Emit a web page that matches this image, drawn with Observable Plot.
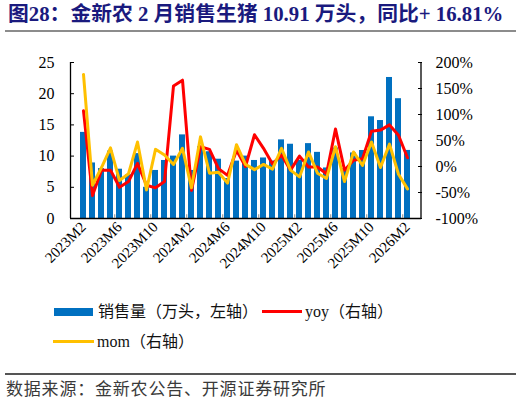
<!DOCTYPE html>
<html>
<head>
<meta charset="utf-8">
<script src="https://cdn.jsdelivr.net/npm/d3@7"></script>
<script src="https://cdn.jsdelivr.net/npm/@observablehq/plot@0.6"></script>
<style>
  body { margin: 0; background: white; }
  #wrap { position: relative; width: 522px; height: 405px; overflow: hidden; background: white; }
  #wrap div { position: absolute; white-space: nowrap; }
  .cn { font-family: 'Liberation Serif', 'Noto Sans CJK SC', serif; }
  #title { left: 8px; top: 1px; font-size: 20.8px; font-weight: bold; color: #1a1a7e; line-height: 26px; }
  #chart { left: 0; top: 40px; }
  .lg { font-size: 16px; line-height: 20px; color: #111; }
  #source { left: 6px; top: 380px; font-size: 17px; line-height: 20px; color: #3a3a3a; letter-spacing: 0.8px; }
</style>
</head>
<body>
<div id="wrap">
  <div id="title" class="cn">图28：金新农 2 月销售生猪 10.91 万头，同比+ 16.81%</div>
  <div style="left:5px;top:30px;width:511px;height:2px;background:#8c8c8c;"></div>
  <div id="chart"></div>

  <div style="left:54px;top:308px;width:39px;height:8px;background:#0070C0;"></div>
  <div class="lg cn" style="left:98px;top:302px;">销售量（万头，左轴）</div>
  <div style="left:262px;top:310px;width:40px;height:3px;background:#FF0000;"></div>
  <div class="lg cn" style="left:305px;top:302px;">yoy（右轴）</div>
  <div style="left:53px;top:340px;width:41px;height:3px;background:#FFC000;"></div>
  <div class="lg cn" style="left:97px;top:332px;">mom（右轴）</div>

  <div style="left:5px;top:373px;width:511px;height:1.5px;background:#555;"></div>
  <div id="source" class="cn">数据来源：金新农公告、开源证券研究所</div>
</div>
<script>
// months 2023M2 .. 2026M2
const months = [
  '2023M2','2023M3','2023M4','2023M5','2023M6','2023M7','2023M8','2023M9','2023M10','2023M11','2023M12',
  '2024M1','2024M2','2024M3','2024M4','2024M5','2024M6','2024M7','2024M8','2024M9','2024M10','2024M11','2024M12',
  '2025M1','2025M2','2025M3','2025M4','2025M5','2025M6','2025M7','2025M8','2025M9','2025M10','2025M11','2025M12',
  '2026M1','2026M2'
]
// 销售量 (万头)
const sales = [13.8, 8.9, 8.0, 10.8, 7.9, 7.0, 10.4, 5.0, 7.7, 9.3, 10.0,
  13.4, 7.7, 11.5, 10.7, 9.5, 6.4, 9.2, 10.0, 9.3, 9.7, 9.2, 12.6,
  11.9, 9.34, 12.0, 10.6, 8.1, 11.3, 8.0, 10.5, 10.9, 16.3, 15.7, 22.6,
  19.2, 10.91]
// yoy (%)
const yoy = [107, -56, -7, -7, -40, -29, 6, -36, -41, -29, 155,
  166, -46, 38, 33, -4, -17, 31, 0, 61, 35, 5, 22,
  -7, 20, -1, -1, -14, 72, -7, 12, 15, 68, 70, 80,
  60, 16.81]
// mom (%)
const mom = [177, -36, -2, 36, -27, -14, 47, -45, 33, 22, 4,
  35, -41, 57, -13, -11, -32, 42, 4, -6, 4, -5, 35,
  -7, -20, 28, -13, -23, 38, -29, 28, 2, 47, -2, 43,
  -15, -43]

const tickLabels = ['2023M2','2023M6','2023M10','2024M2','2024M6','2024M10','2025M2','2025M6','2025M10','2026M2']
const leftTicks = [0, 5, 10, 15, 20, 25]
const rightTicks = [-100, -50, 0, 50, 100, 150, 200]

// right axis (-100%..200%) mapped onto the left axis (0..25)
const toLeft = v => (v + 100) / 300 * 25
const fromLeft = d => Math.round(d * 12 - 100)

const table = months.map((m, i) => ({month: m, sales: sales[i], yoy: yoy[i], mom: mom[i]}))

const W = 522, H = 250
const mL = 70, mR = 101, mT = 22, mB = 72
const padIn = 0.3, padOut = 0.15
const step = (W - mL - mR) / (months.length - padIn + 2 * padOut)

const font = "'Liberation Serif', 'Times New Roman', serif"

let chart = Plot.plot({
  width: W,
  height: H,
  marginTop: mT,
  marginBottom: mB,
  marginLeft: mL,
  marginRight: mR,
  style: {fontFamily: font, fontSize: '15px', color: 'black', background: 'white', overflow: 'visible'},
  x: {domain: months, paddingInner: padIn, paddingOuter: padOut},
  y: {domain: [0, 25]},
  marks: [
    Plot.barY(table, {x: 'month', y: 'sales', fill: '#0070C0'}),
    Plot.ruleY([0], {stroke: 'black', strokeWidth: 1.3}),
    Plot.ruleX(tickLabels.slice(1), {y1: 0, y2: 0.6, dx: -step / 2, stroke: '#888'}),
    Plot.line(table, {x: 'month', y: d => toLeft(d.yoy), stroke: '#FF0000', strokeWidth: 3}),
    Plot.line(table, {x: 'month', y: d => toLeft(d.mom), stroke: '#FFC000', strokeWidth: 3}),
    Plot.axisY({anchor: 'left', ticks: leftTicks, tickSize: -4, tickPadding: 20, label: null, fontSize: 16}),
    Plot.axisY({anchor: 'right', ticks: rightTicks.map(toLeft), tickFormat: d => fromLeft(d) + '%',
      tickSize: -4, tickPadding: 18, label: null, fontSize: 16}),
    Plot.axisX({ticks: tickLabels, tickRotate: -45, tickSize: 0, tickPadding: 6, label: null, fontSize: 15}),
  ],
})

// vertical axis lines, left and right
const ys = chart.scale('y')
const svg = d3.select(chart)
;[mL + 0.5, W - mR].forEach(x => {
  svg.append('line')
    .attr('x1', x).attr('x2', x)
    .attr('y1', ys.apply(0)).attr('y2', ys.apply(25))
    .attr('stroke', 'black').attr('stroke-width', 1.3)
})

d3.select('#chart').append(() => chart)
</script>
</body>
</html>
